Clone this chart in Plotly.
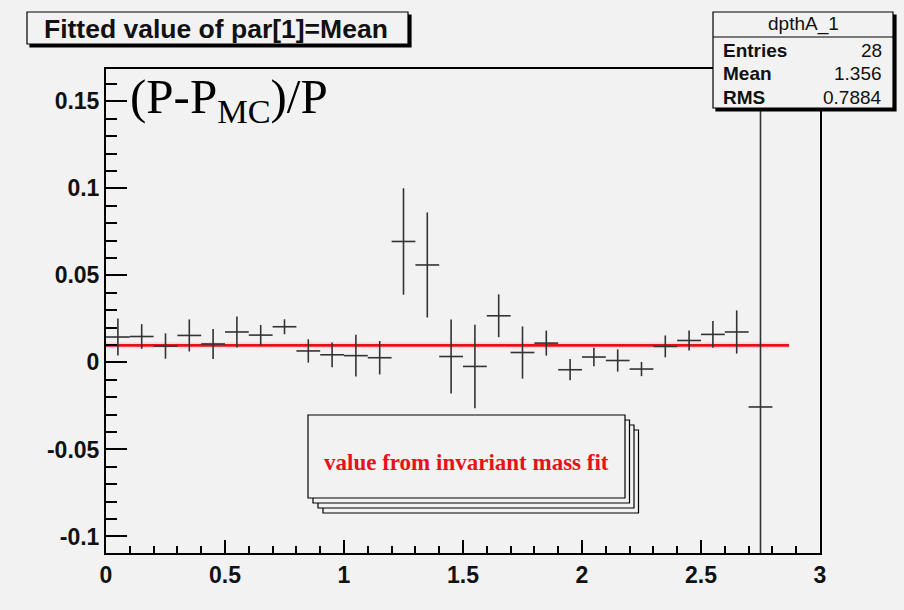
import plotly.graph_objects as go

# ---------------- data ----------------
bin_centers = [0.05, 0.15, 0.25, 0.35, 0.45, 0.55, 0.65, 0.75, 0.85, 0.95,
               1.05, 1.15, 1.25, 1.35, 1.45, 1.55, 1.65, 1.75, 1.85, 1.95,
               2.05, 2.15, 2.25, 2.35, 2.45, 2.55, 2.65, 2.75]
values = [0.0146, 0.0149, 0.0094, 0.0155, 0.0106, 0.0175, 0.0157, 0.0205, 0.0066, 0.0044,
          0.0039, 0.0027, 0.0695, 0.0560, 0.0034, -0.0023, 0.0268, 0.0057, 0.0111, -0.0042,
          0.0031, 0.0011, -0.0038, 0.0092, 0.0126, 0.0161, 0.0175, -0.0256]
errors = [0.0106, 0.0071, 0.0073, 0.0092, 0.0086, 0.0089, 0.0058, 0.0043, 0.0067, 0.0071,
          0.0120, 0.0096, 0.0306, 0.0302, 0.0213, 0.0240, 0.0123, 0.0150, 0.0072, 0.0061,
          0.0053, 0.0064, 0.0041, 0.0063, 0.0057, 0.0077, 0.0124, 1.0]
bin_half_width = [0.05] * len(bin_centers)

fit_range = [0.0, 2.87]
fit_value = 0.0098

x_tickvals = [0, 0.5, 1, 1.5, 2, 2.5, 3]
x_ticktext = ["0", "0.5", "1", "1.5", "2", "2.5", "3"]
y_tickvals = [-0.1, -0.05, 0, 0.05, 0.1, 0.15]
y_ticktext = ["-0.1", "-0.05", "0", "0.05", "0.1", "0.15"]

title_text = "Fitted value of par[1]=Mean"
stats_name = "dpthA_1"
stats_rows = [("Entries", "28"), ("Mean", "1.356"), ("RMS", "0.7884")]
ylabel_text = "(P-P<sub>MC</sub>)/P"
box_text = "value from invariant mass fit"

# ---------------- layout geometry ----------------
W, H = 904, 610
ML, MR, MT, MB = 106, 84, 69, 57
PW, PH = W - ML - MR, H - MT - MB
BG = "#f2f2f2"


def px(xp):
    return (xp - ML) / PW


def py(yp):
    return (H - MB - yp) / PH


fig = go.Figure()

# fit line (halo + line)
fig.add_trace(go.Scatter(x=fit_range, y=[fit_value, fit_value], mode="lines",
                         line=dict(color="rgba(255,60,60,0.12)", width=6),
                         hoverinfo="skip", showlegend=False))
fig.add_trace(go.Scatter(x=fit_range, y=[fit_value, fit_value], mode="lines",
                         line=dict(color="#e8101a", width=2.6),
                         showlegend=False))

# data points with error crosses
fig.add_trace(go.Scatter(
    x=bin_centers, y=values, mode="markers",
    marker=dict(size=1, color="#333333"),
    error_x=dict(type="data", array=bin_half_width, visible=True,
                 color="#333333", thickness=1.6, width=0),
    error_y=dict(type="data", array=errors, visible=True,
                 color="#333333", thickness=1.6, width=0),
    showlegend=False))

shapes = []
annotations = []


def rect(x0, y0, x1, y1, fill=BG, line="black", lw=1.2):
    shapes.append(dict(type="rect", xref="paper", yref="paper",
                       x0=px(x0), x1=px(x1), y0=py(y1), y1=py(y0),
                       fillcolor=fill, line=dict(color=line, width=lw), layer="above"))


# title box with shadow
rect(30, 15, 411, 47, fill="black", line="black")
rect(27, 12, 408, 44)
annotations.append(dict(xref="paper", yref="paper", x=px(216), y=py(29),
                        text=title_text, showarrow=False, xanchor="center", yanchor="middle",
                        font=dict(family="Liberation Sans", size=26.5, color="#111111", weight=700)))

# stats box with shadow
rect(716, 15, 896, 111, fill="black", line="black")
rect(713, 12, 893, 108)
shapes.append(dict(type="line", xref="paper", yref="paper",
                   x0=px(713), x1=px(893), y0=py(37), y1=py(37),
                   line=dict(color="black", width=1.2), layer="above"))
annotations.append(dict(xref="paper", yref="paper", x=px(803), y=py(24.5),
                        text=stats_name, showarrow=False, xanchor="center", yanchor="middle",
                        font=dict(family="Liberation Sans", size=19, color="#111111")))
row_y = [50, 73.5, 97]
for (lab, val), ry in zip(stats_rows, row_y):
    annotations.append(dict(xref="paper", yref="paper", x=px(721), y=py(ry),
                            text=lab, showarrow=False, xanchor="left", yanchor="middle",
                            font=dict(family="Liberation Sans", size=19, color="#111111", weight=700)))
    annotations.append(dict(xref="paper", yref="paper", x=px(884), y=py(ry),
                            text=val, showarrow=False, xanchor="right", yanchor="middle",
                            font=dict(family="Liberation Sans", size=19, color="#111111")))

# stacked text box
for k in (3, 2, 1):
    rect(308 + 5 * k, 415 + 5 * k, 625 + 4.5 * k, 498 + 5 * k)
rect(308, 415, 625, 498)
annotations.append(dict(xref="paper", yref="paper", x=px(466.5), y=py(462),
                        text=box_text, showarrow=False, xanchor="center", yanchor="middle",
                        font=dict(family="Liberation Serif", size=23, color="#e8101a", weight=700)))

# big y label text
annotations.append(dict(xref="paper", yref="paper", x=px(128), y=py(99),
                        text=ylabel_text, showarrow=False, xanchor="left", yanchor="middle",
                        font=dict(family="Liberation Serif", size=49, color="black")))

axis_font = dict(family="Liberation Sans", size=23, color="#111111", weight=700)

fig.update_layout(
    width=W, height=H,
    margin=dict(l=ML, r=MR, t=MT, b=MB, pad=0),
    paper_bgcolor=BG, plot_bgcolor=BG,
    shapes=shapes, annotations=annotations,
    xaxis=dict(range=[0, 3], showgrid=False, zeroline=False,
               showline=True, linecolor="black", linewidth=2, mirror=True,
               ticks="inside", ticklen=13, tickwidth=1.5, tickcolor="black",
               tickvals=x_tickvals, ticktext=x_ticktext, tickfont=axis_font,
               minor=dict(ticks="inside", dtick=0.1, tick0=0, ticklen=7,
                          tickwidth=1.5, tickcolor="black", showgrid=False)),
    yaxis=dict(range=[-0.1095, 0.1686], showgrid=False, zeroline=False,
               showline=True, linecolor="black", linewidth=2, mirror=True,
               ticks="inside", ticklen=21, tickwidth=1.5, tickcolor="black",
               tickvals=y_tickvals, ticktext=y_ticktext, tickfont=axis_font,
               minor=dict(ticks="inside", dtick=0.01, tick0=0, ticklen=11,
                          tickwidth=1.5, tickcolor="black", showgrid=False)),
)

fig.write_html("out.html")
